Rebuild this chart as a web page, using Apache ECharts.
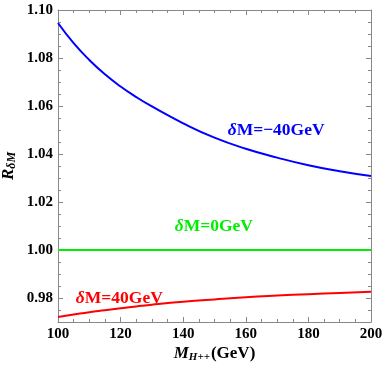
<!DOCTYPE html>
<html>
<head>
<meta charset="utf-8"/>
<title></title>
<script src="https://cdn.jsdelivr.net/npm/echarts@6/dist/echarts.min.js"></script>
</head>
<body style="margin:0;background:#fff">
<div id="echarts" style="width:382px;height:374px;"></div>
<script type="text/javascript">
    // masses (GeV)
    var mass = [100, 105, 110, 115, 120, 125, 130, 140, 150, 160, 170, 180, 190, 200];
    // R for dM = -40, 0, 40 GeV
    var rMinus40 = [1.0946, 1.0862, 1.0792, 1.0732, 1.0681, 1.0637, 1.0598, 1.0528, 1.0468, 1.0422, 1.0385, 1.0353, 1.0328, 1.0308];
    var rZero = [1.0, 1.0, 1.0, 1.0, 1.0, 1.0, 1.0, 1.0, 1.0, 1.0, 1.0, 1.0, 1.0, 1.0];
    var rPlus40 = [0.9721, 0.9731, 0.9741, 0.9749, 0.9757, 0.9765, 0.9772, 0.9784, 0.9794, 0.9803, 0.9810, 0.9816, 0.9821, 0.9826];
    var yTicks = [0.98, 1.00, 1.02, 1.04, 1.06, 1.08, 1.10];

    function pairs(ys) {
        var out = [];
        for (var i = 0; i < mass.length; i++) {
            out.push([mass[i], ys[i]]);
        }
        return out;
    }

    var font = 'Liberation Serif';
    var axisGrey = '#888';

    function xAx(pos, labels) {
        return {
            type: 'value', position: pos, min: 100, max: 200, interval: 20,
            axisLine: {show: true, lineStyle: {color: axisGrey}},
            axisTick: {show: true, inside: true, length: 5, lineStyle: {color: axisGrey}},
            minorTick: {show: true, splitNumber: 4, length: 3, lineStyle: {color: axisGrey}},
            splitLine: {show: false},
            axisLabel: {show: labels, color: '#000', fontFamily: font, fontWeight: 'bold', fontSize: 15, margin: 5}
        };
    }

    function yAx(pos, major, labels) {
        var a = {
            type: 'value', position: pos, min: 0.97, max: 1.10, interval: 0.005,
            axisLine: {show: major, lineStyle: {color: axisGrey}},
            axisTick: {show: true, inside: true, length: major ? 5 : 3, lineStyle: {color: axisGrey}},
            splitLine: {show: false},
            axisLabel: {show: false}
        };
        if (major) {
            a.axisTick.customValues = yTicks;
        }
        if (labels) {
            a.axisLabel = {
                show: true, customValues: yTicks, color: '#000', fontFamily: font, fontWeight: 'bold',
                fontSize: 15, margin: 5,
                formatter: function (v) { return v.toFixed(2); }
            };
        }
        return a;
    }

    function tag(text, x, y, color) {
        return {
            symbol: 'circle', symbolSize: 0, silent: true,
            data: [{coord: [x, y]}],
            label: {
                show: true, position: 'inside', formatter: text,
                color: color, fontFamily: font, fontWeight: 'bold', fontSize: 17.5,
                rich: {i: {fontStyle: 'italic', fontFamily: font, fontWeight: 'bold', fontSize: 17.5, color: color}}
            }
        };
    }

    var myChart = echarts.init(document.getElementById('echarts'));
    var xName = xAx('bottom', true);
    xName.name = '{m|M}{s|H++}{g|(GeV)}';
    xName.nameLocation = 'middle';
    xName.nameGap = 23;
    xName.nameMoveOverlap = false;
    xName.nameTextStyle = {
        rich: {
            m: {fontFamily: font, fontStyle: 'italic', fontWeight: 'bold', fontSize: 17, color: '#000'},
            s: {fontFamily: font, fontStyle: 'italic', fontWeight: 'bold', fontSize: 11, color: '#000', padding: [7, 1, 0, 0]},
            g: {fontFamily: font, fontWeight: 'bold', fontSize: 17, color: '#000'}
        }
    };
    var yName = yAx('left', true, true);
    yName.name = '{r|R}{s|δM}';
    yName.nameLocation = 'middle';
    yName.nameRotate = 90;
    yName.nameGap = 40;
    yName.nameMoveOverlap = false;
    yName.nameTextStyle = {
        rich: {
            r: {fontFamily: font, fontStyle: 'italic', fontWeight: 'bold', fontSize: 17, color: '#000'},
            s: {fontFamily: font, fontStyle: 'italic', fontWeight: 'bold', fontSize: 12, color: '#000', padding: [7, 0, 0, 0]}
        }
    };

    var option = {
        animation: false,
        grid: {left: 58, right: 11, top: 10, bottom: 52, outerBoundsMode: 'none'},
        xAxis: [xName, xAx('top', false)],
        yAxis: [yName, yAx('left', false, false), yAx('right', true, false), yAx('right', false, false)],
        series: [
            {
                name: 'dM=-40', type: 'line', data: pairs(rMinus40), smooth: true, showSymbol: false,
                lineStyle: {color: '#0000ff', width: 2}, itemStyle: {color: '#0000ff'},
                markPoint: tag('{i|δ}M=\u221240GeV', 169.7, 1.05, '#0000ff')
            },
            {
                name: 'dM=0', type: 'line', data: pairs(rZero), showSymbol: false,
                lineStyle: {color: '#00ee00', width: 2}, itemStyle: {color: '#00ee00'},
                markPoint: tag('{i|δ}M=0GeV', 149.8, 1.0097, '#00ee00')
            },
            {
                name: 'dM=40', type: 'line', data: pairs(rPlus40), smooth: true, showSymbol: false,
                lineStyle: {color: '#ff0000', width: 2}, itemStyle: {color: '#ff0000'},
                markPoint: tag('{i|δ}M=40GeV', 119.6, 0.9796, '#ff0000')
            }
        ]
    };
    myChart.setOption(option);
</script>
</body>
</html>
